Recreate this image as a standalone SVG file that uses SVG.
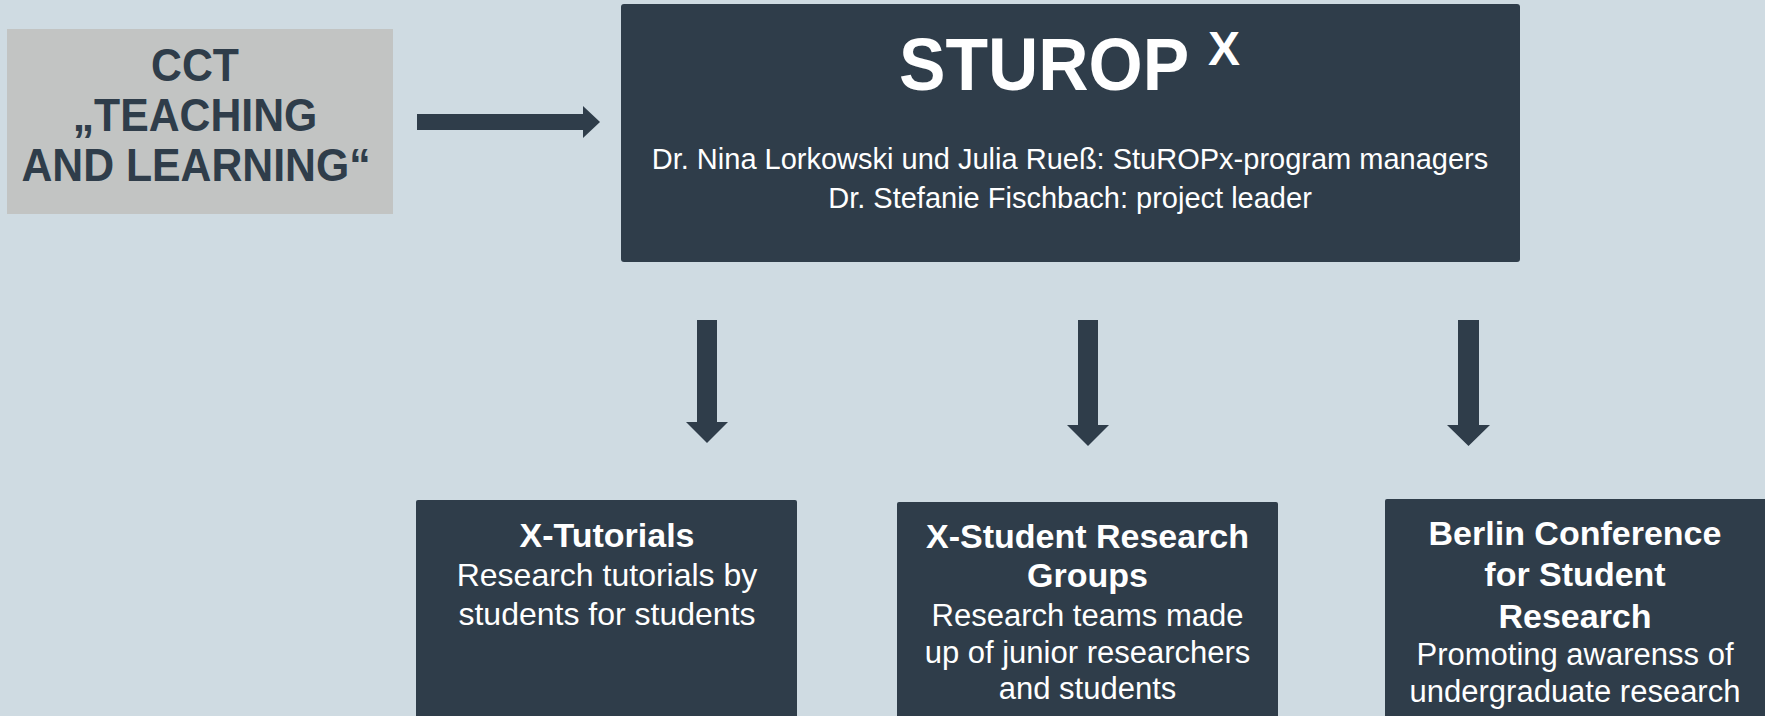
<svg xmlns="http://www.w3.org/2000/svg" width="1765" height="716" viewBox="0 0 1765 716">
<style>
.dark{fill:#2f3d4a}
.t{font-family:"Liberation Sans",Arial,sans-serif;text-anchor:middle}
.w{fill:#ffffff}
.b{font-weight:bold}
.body{font-size:31px}
.ttl{font-size:34px;font-weight:bold}
.cct{font-family:"Liberation Sans",Arial,sans-serif;font-weight:bold;font-size:43px;fill:#2f3d4a;text-anchor:middle}
</style>
<rect x="0" y="0" width="1765" height="716" fill="#cfdbe2"/>
<g id="cct">
<rect x="7" y="29" width="386" height="185" fill="#c2c4c3"/>
<text class="cct" transform="translate(195,81) scale(0.995,1.08)">CCT</text>
<text class="cct" transform="translate(195,131) scale(0.995,1.08)">„TEACHING</text>
<text class="cct" transform="translate(196,181) scale(0.995,1.08)">AND LEARNING“</text>
</g>
<g id="sturop">
<rect class="dark" x="621" y="4" width="899" height="258" rx="3"/>
<text class="w b" font-family="Liberation Sans, Arial, sans-serif" font-size="70" transform="translate(899,90) scale(0.995,1.07)">STUROP</text>
<text class="w b" font-family="Liberation Sans, Arial, sans-serif" font-size="48" transform="translate(1208,65)">X</text>
<text class="t w" font-size="29" x="1070" y="169">Dr. Nina Lorkowski und Julia Rueß: StuROPx-program managers</text>
<text class="t w" font-size="29" x="1070" y="208">Dr. Stefanie Fischbach: project leader</text>
</g>
<g id="connectors" class="dark">
<polygon points="417,114 583,114 583,106 600,122 583,138 583,130 417,130"/>
<polygon points="697,320 717,320 717,422 728,422 707,443 686,422 697,422"/>
<polygon points="1078,320 1098,320 1098,425 1109,425 1088,446 1067,425 1078,425"/>
<polygon points="1458,320 1479,320 1479,425 1490,425 1468.5,446 1447,425 1458,425"/>
</g>
<g id="tutorials">
<rect class="dark" x="416" y="500" width="381" height="230" rx="2"/>
<text class="t w ttl" x="607" y="547">X-Tutorials</text>
<text class="t w" font-size="32" x="607" y="586">Research tutorials by</text>
<text class="t w" font-size="32" x="607" y="625">students for students</text>
</g>
<g id="groups">
<rect class="dark" x="897" y="502" width="381" height="230" rx="2"/>
<text class="t w ttl" x="1087.5" y="548">X-Student Research</text>
<text class="t w ttl" x="1087.5" y="587">Groups</text>
<text class="t w body" x="1087.5" y="626">Research teams made</text>
<text class="t w body" x="1087.5" y="663">up of junior researchers</text>
<text class="t w body" x="1087.5" y="699">and students</text>
</g>
<g id="conference">
<rect class="dark" x="1385" y="499" width="400" height="230" rx="2"/>
<text class="t w ttl" x="1575" y="545">Berlin Conference</text>
<text class="t w ttl" x="1575" y="586">for Student</text>
<text class="t w ttl" x="1575" y="628">Research</text>
<text class="t w body" x="1575" y="665">Promoting awarenss of</text>
<text class="t w body" x="1575" y="702">undergraduate research</text>
</g>
</svg>
